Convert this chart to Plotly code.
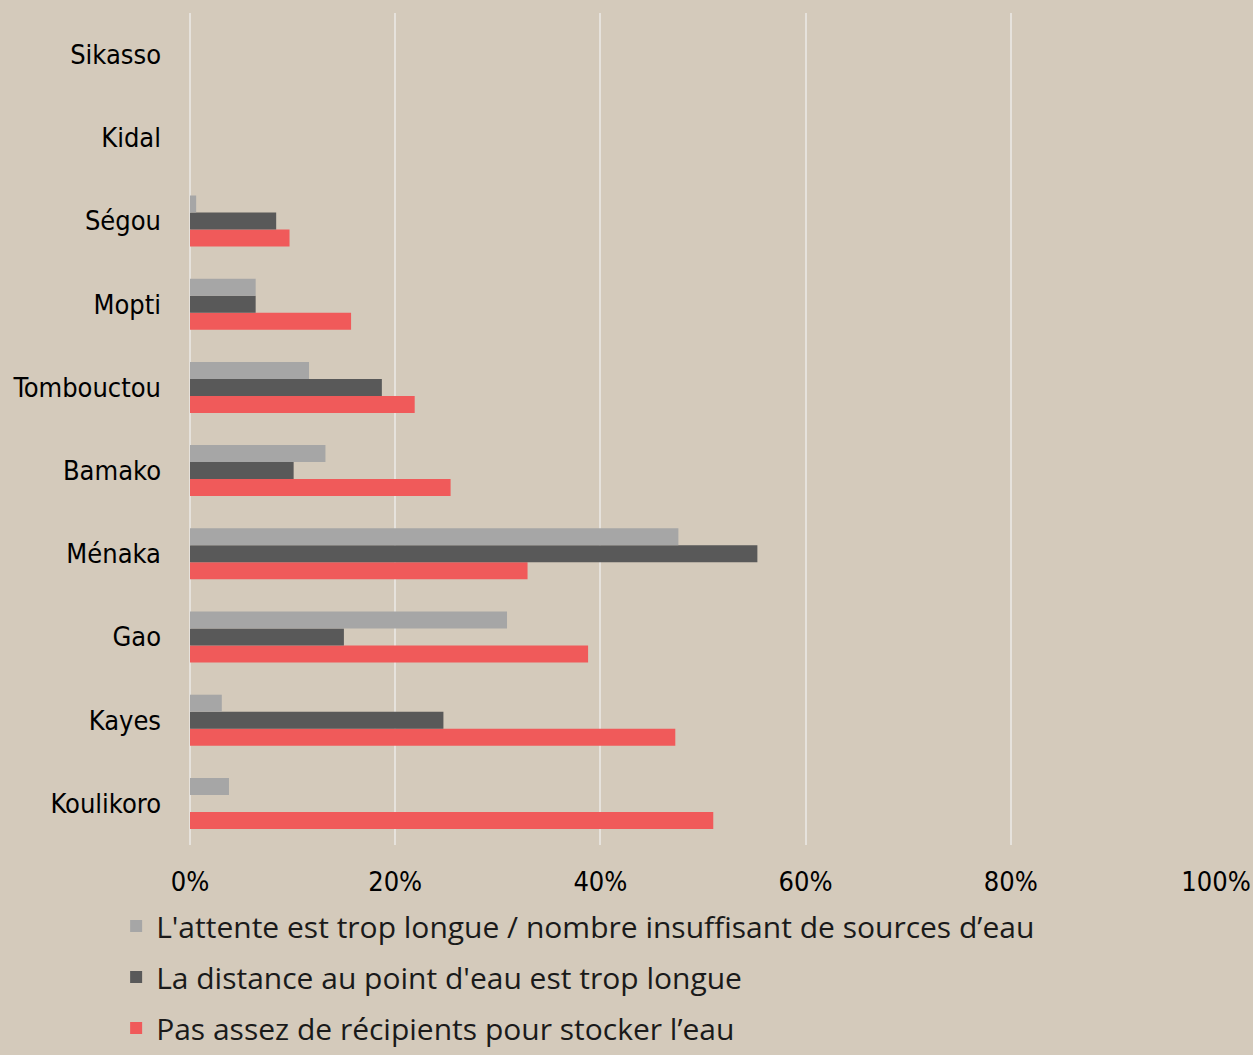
import plotly.graph_objects as go

regions = ["Koulikoro", "Kayes", "Gao", "Ménaka", "Bamako", "Tombouctou", "Mopti", "Ségou", "Kidal", "Sikasso"]
attente = [3.8, 3.1, 30.9, 47.6, 13.2, 11.6, 6.4, 0.6, None, None]
distance = [None, 24.7, 15.0, 55.3, 10.1, 18.7, 6.4, 8.4, None, None]
recipients = [51.0, 47.3, 38.8, 32.9, 25.4, 21.9, 15.7, 9.7, None, None]

names = [
    "L'attente est trop longue / nombre insuffisant de sources d’eau",
    "La distance au point d'eau est trop longue",
    "Pas assez de récipients pour stocker l’eau",
]
colors = ["#a6a6a6", "#595959", "#f05a5a"]

fig = go.Figure()
for vals, name, col, rank in [(recipients, names[2], colors[2], 3),
                               (distance, names[1], colors[1], 2),
                               (attente, names[0], colors[0], 1)]:
    fig.add_trace(go.Bar(
        y=regions, x=[v / 100 if v is not None else None for v in vals],
        orientation="h", name=name, legendrank=rank, legendgroup="g%d" % rank,
        marker=dict(color=col, line=dict(width=0)),
    ))

bg = "#d4cabb"
tickfont = dict(family="Liberation Sans Narrow, DejaVu Sans Condensed, Arial Narrow, sans-serif", size=27, color="#000")
fig.update_layout(
    width=1253, height=1055,
    paper_bgcolor=bg, plot_bgcolor=bg,
    margin=dict(l=190, r=37, t=13, b=210, autoexpand=False),
    barmode="group", bargap=0.387, bargroupgap=0,
    xaxis=dict(range=[0, 1], tickformat=".0%", dtick=0.2,
               showgrid=True, gridcolor="#e6e2dc", gridwidth=2,
               zeroline=True, zerolinecolor="#e6e2dc", zerolinewidth=2,
               showline=False, ticks="", ticklabelstandoff=18,
               tickfont=tickfont, fixedrange=True),
    yaxis=dict(categoryorder="array", categoryarray=regions,
               showgrid=False, zeroline=False, showline=False, ticks="",
               ticklabelstandoff=28, tickfont=tickfont),
    legend=dict(orientation="v", traceorder="grouped", tracegroupgap=9,
                x=-0.072, xanchor="left", y=-0.066, yanchor="top",
                font=dict(family="Open Sans, Noto Sans, sans-serif", size=30, color="#1a1a1a"),
                bgcolor="rgba(0,0,0,0)", itemwidth=30),
    showlegend=True,
)

fig.write_html("out.html", config={"displayModeBar": False},
               post_script="document.body.style.margin='0';document.documentElement.style.margin='0';")
